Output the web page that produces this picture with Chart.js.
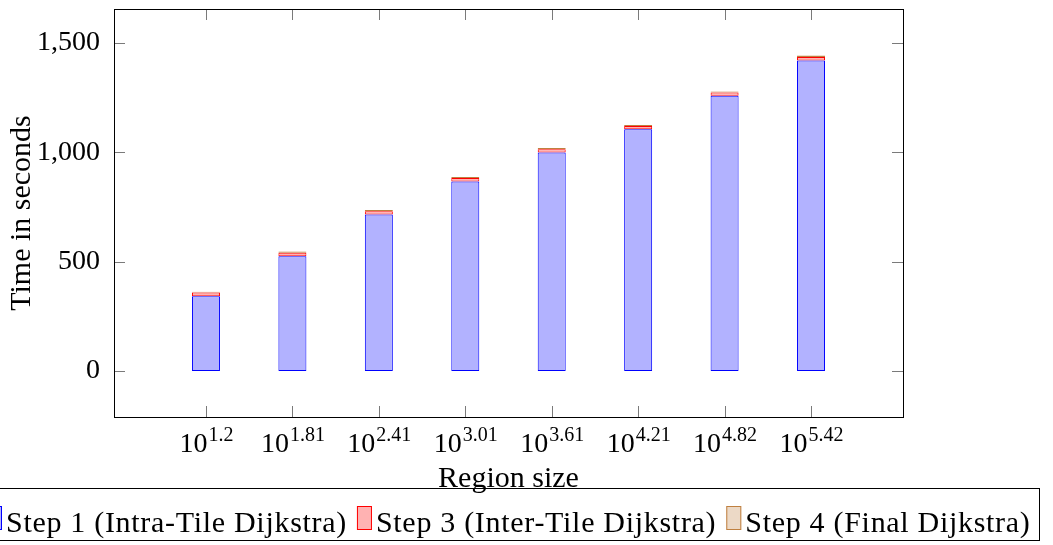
<!DOCTYPE html>
<html><head><meta charset="utf-8">
<script src="https://cdn.jsdelivr.net/npm/chart.js@4.4.1/dist/chart.umd.min.js"></script>
<style>html,body{margin:0;padding:0;background:#fff;overflow:hidden}#wrap{width:1053px;height:545px;position:relative}</style>
</head><body><div id="wrap"><canvas id="c" width="1053" height="545"></canvas></div>
<script>
// ---- data ----
const categoryExponents = ["1.2", "1.81", "2.41", "3.01", "3.61", "4.21", "4.82", "5.42"];
const step1Intra = [342, 525, 716, 866, 999, 1105, 1258, 1420];
const step3Inter = [17, 16, 15, 16, 15, 15, 15, 16];
const step4Final = [4, 5, 5, 5, 6, 5, 5, 6];
const yTickValues = [0, 500, 1000, 1500];
const seriesLabels = ["Step 1 (Intra-Tile Dijkstra)", "Step 3 (Inter-Tile Dijkstra)", "Step 4 (Final Dijkstra)"];
const xAxisTitle = "Region size";
const yAxisTitle = "Time in seconds";

const FONT = "'Liberation Serif', 'DejaVu Serif', serif";
const toPoints = arr => arr.map((v, i) => ({ x: i, y: v }));

const decor = {
  id: 'decor',
  afterDatasetsDraw(chart) {
    const { ctx, chartArea: a, scales: { x, y } } = chart;
    ctx.save();
    // inward ticks
    ctx.strokeStyle = '#7a7a7a';
    ctx.lineWidth = 1;
    ctx.beginPath();
    categoryExponents.forEach((e, i) => {
      const px = Math.round(x.getPixelForValue(i)) + 0.5;
      ctx.moveTo(px, a.bottom); ctx.lineTo(px, a.bottom - 11);
      ctx.moveTo(px, a.top); ctx.lineTo(px, a.top + 11);
    });
    yTickValues.forEach(v => {
      const py = Math.round(y.getPixelForValue(v)) + 0.5;
      ctx.moveTo(a.left, py); ctx.lineTo(a.left + 11, py);
      ctx.moveTo(a.right, py); ctx.lineTo(a.right - 11, py);
    });
    ctx.stroke();
    // frame
    ctx.strokeStyle = '#000';
    ctx.strokeRect(Math.round(a.left) + 0.5, Math.round(a.top) + 0.5, Math.round(a.right - a.left), Math.round(a.bottom - a.top));

    // x tick labels 10^e
    ctx.fillStyle = '#000';
    ctx.textBaseline = 'alphabetic';
    ctx.textAlign = 'left';
    const baseFont = `28px ${FONT}`, supFont = `20px ${FONT}`;
    categoryExponents.forEach((e, i) => {
      const px = x.getPixelForValue(i);
      ctx.font = baseFont; const wb = ctx.measureText('10').width;
      ctx.font = supFont; const ws = ctx.measureText(e).width;
      const start = px - (wb + ws) / 2;
      ctx.font = baseFont; ctx.fillText('10', start, 452);
      ctx.font = supFont; ctx.fillText(e, start + wb + 1, 441);
    });
    // x title
    const textFont = `30px ${FONT}`;
    ctx.font = textFont;
    ctx.textAlign = 'center';
    ctx.fillText(xAxisTitle, (a.left + a.right) / 2, 487);

    // legend
    ctx.textAlign = 'left';
    ctx.letterSpacing = '0.7px';
    const items = chart.data.datasets.map(ds => ({ label: ds.label, bg: ds.backgroundColor, bd: ds.borderColor, w: ctx.measureText(ds.label).width }));
    const swW = 15, swH = 24, gapSwText = 4, gapItems = 10, padX = 8;
    const total = padX * 2 + items.reduce((s, it) => s + swW + gapSwText + it.w, 0) + gapItems * (items.length - 1);
    const left = Math.round((a.left + a.right) / 2 - total / 2);
    ctx.strokeStyle = '#000';
    ctx.strokeRect(left + 0.5, 488.5, Math.round(total), 52);
    let xx = left + padX;
    items.forEach(it => {
      ctx.fillStyle = it.bg;
      ctx.fillRect(xx, 506, swW, swH);
      ctx.strokeStyle = it.bd;
      ctx.strokeRect(xx + 0.5, 506.5, swW - 1, swH - 1);
      ctx.fillStyle = '#000';
      ctx.fillText(it.label, xx + swW + gapSwText, 532);
      xx += swW + gapSwText + it.w + gapItems;
    });
    ctx.restore();
  }
};

new Chart(document.getElementById('c'), {
  type: 'bar',
  data: {
    datasets: [
      { label: seriesLabels[0], data: toPoints(step1Intra), backgroundColor: 'rgb(178,178,255)', borderColor: 'rgb(0,0,255)' },
      { label: seriesLabels[1], data: toPoints(step3Inter), backgroundColor: 'rgb(255,178,178)', borderColor: 'rgb(255,0,0)' },
      { label: seriesLabels[2], data: toPoints(step4Final), backgroundColor: 'rgb(236,217,198)', borderColor: 'rgb(191,128,64)' }
    ]
  },
  options: {
    responsive: false,
    animation: false,
    devicePixelRatio: 1,
    layout: { padding: { left: 0, right: 150, top: 9, bottom: 128 } },
    datasets: { bar: { borderWidth: 1, borderSkipped: false, barThickness: 28, inflateAmount: 0 } },
    plugins: { legend: { display: false }, tooltip: { enabled: false } },
    scales: {
      x: { type: 'linear', display: false, offset: false, min: -1.064, max: 8.064, stacked: true, ticks: { stepSize: 1, includeBounds: false } },
      y: {
        type: 'linear', stacked: true, min: -210, max: 1655,
        afterFit: s => { s.width = 114; s.paddingTop = 0; s.paddingBottom = 0; },
        grid: { display: false, drawTicks: false },
        border: { display: false },
        afterBuildTicks: s => { s.ticks = yTickValues.map(v => ({ value: v })); },
        ticks: { color: '#000', padding: 14, font: { family: FONT, size: 28 }, callback: v => v.toLocaleString('en-US') },
        title: { display: true, text: yAxisTitle, color: '#000', font: { family: FONT, size: 30 }, padding: { top: 4, bottom: 0 } }
      }
    }
  },
  plugins: [decor]
});
</script>
</body></html>
